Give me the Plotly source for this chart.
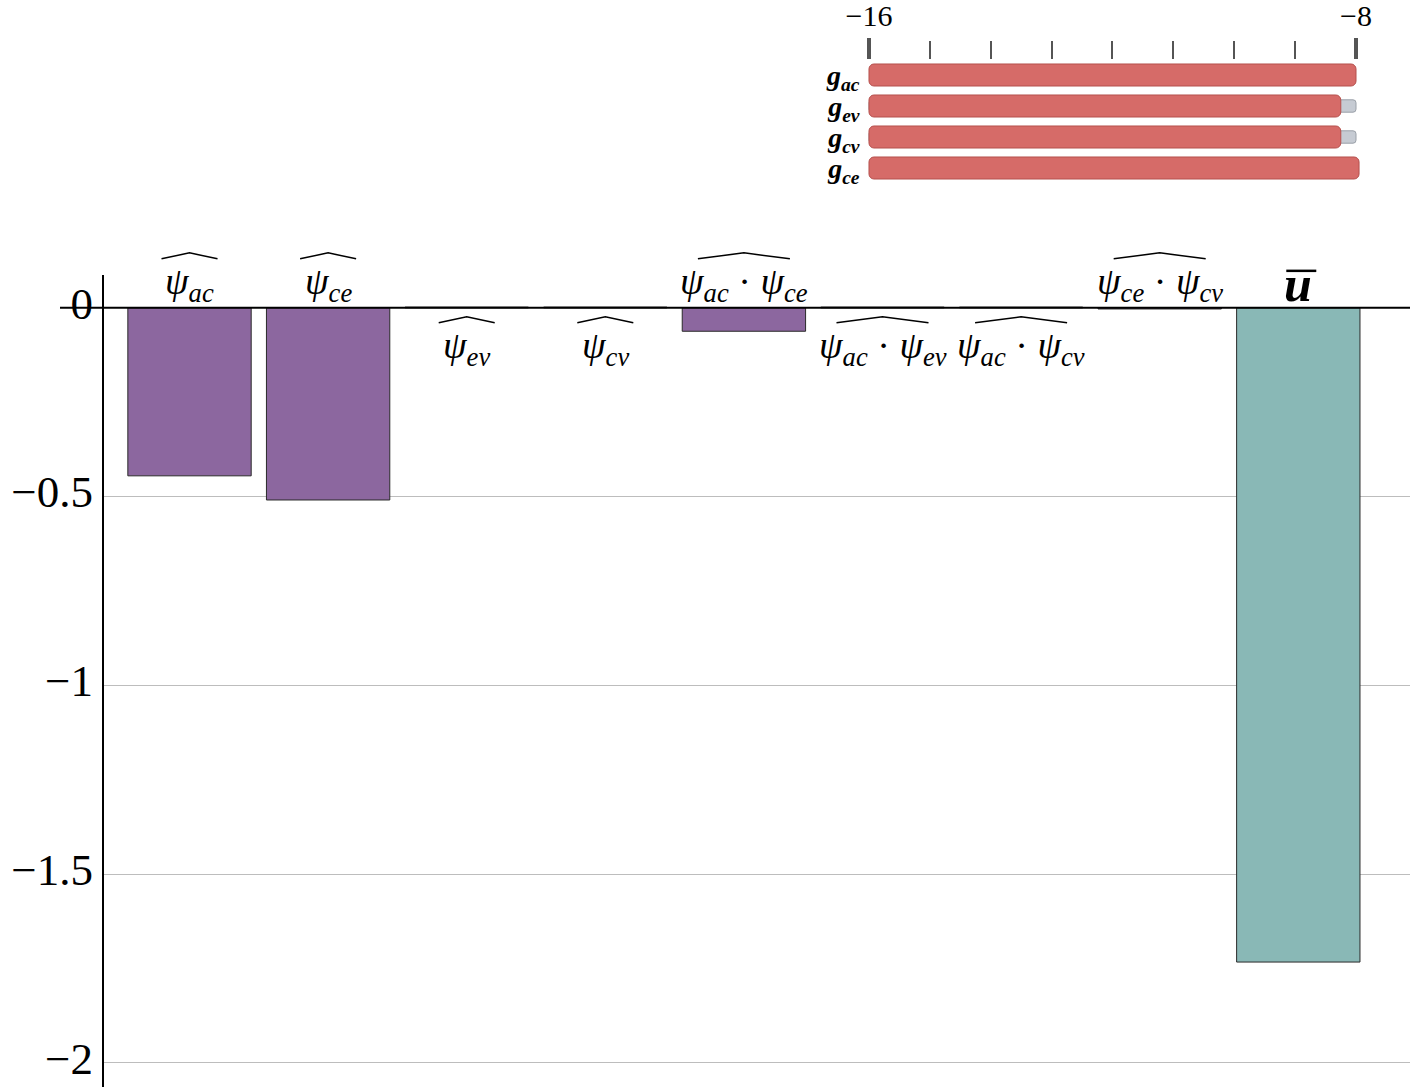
import plotly.graph_objects as go

# ---- main bar chart data -------------------------------------------------
terms = [
    "<i>ψ<sub>ac</sub></i>",
    "<i>ψ<sub>ce</sub></i>",
    "<i>ψ<sub>ev</sub></i>",
    "<i>ψ<sub>cv</sub></i>",
    "<i>ψ<sub>ac</sub></i> · <i>ψ<sub>ce</sub></i>",
    "<i>ψ<sub>ac</sub></i> · <i>ψ<sub>ev</sub></i>",
    "<i>ψ<sub>ac</sub></i> · <i>ψ<sub>cv</sub></i>",
    "<i>ψ<sub>ce</sub></i> · <i>ψ<sub>cv</sub></i>",
    "<b><i>u</i></b>",
]
contributions = [-0.445, -0.509, 0.002, 0.002, -0.062, 0.002, 0.002, -0.003, -1.733]
is_total = [False, False, False, False, False, False, False, False, True]

y_ticks = [0, -0.5, -1, -1.5, -2]
y_tick_text = ["0", "−0.5", "−1", "−1.5", "−2"]
y_range = [-2.064, 0.087]

# ---- inset: parameter ranges on a -16 .. -8 scale -------------------------
params = ["<b><i>g<sub>ac</sub></i></b>", "<b><i>g<sub>ev</sub></i></b>",
          "<b><i>g<sub>cv</sub></i></b>", "<b><i>g<sub>ce</sub></i></b>"]
range_lo = [-16, -16, -16, -16]
range_hi = [-8.0, -8.25, -8.25, -7.95]
bound_hi = [None, -8.0, -8.0, None]
inset_ticks = [-16, -15, -14, -13, -12, -11, -10, -9, -8]
inset_end_ticks = [-16, -8]
inset_end_text = ["−16", "−8"]
inset_range = [-16.04, -7.9]

PURPLE = "#8C679F"
TEAL = "#89B8B6"
RED = "#D66B68"
GRAY = "#C6CBD3"
SERIF = "Liberation Serif"

W, H = 1416, 1087
MAIN_TOP = 1 - 275 / H
# paper-fraction height of the zero baseline (labels sit outside the plot area)
zero_paper = MAIN_TOP * (0 - y_range[0]) / (y_range[1] - y_range[0])

# inset x-domain from pixel scale of the -16..-8 ticks
px_per_unit = (1356 - 869) / 8.0
ix0 = 869 + (inset_range[0] + 16) * px_per_unit
ix1 = 869 + (inset_range[1] + 16) * px_per_unit

fig = go.Figure()

idx = list(range(len(terms)))
fig.add_trace(go.Bar(
    x=idx, y=contributions, width=0.89,
    marker=dict(color=[TEAL if t else PURPLE for t in is_total],
                line=dict(color="#2a2a2a", width=1)),
    xaxis="x", yaxis="y", showlegend=False, hoverinfo="skip",
))

# inset: grey bound behind, red range on top
gray_x = [None if b is None else b - lo for b, lo in zip(bound_hi, range_lo)]
fig.add_trace(go.Bar(
    y=list(range(len(params))), x=gray_x, base=range_lo, orientation="h",
    width=0.4, marker=dict(color=GRAY, line=dict(color="#9aa0a8", width=1),
                           cornerradius=3),
    xaxis="x2", yaxis="y2", showlegend=False, hoverinfo="skip",
))
fig.add_trace(go.Bar(
    y=list(range(len(params))), x=[h - lo for h, lo in zip(range_hi, range_lo)],
    base=range_lo, orientation="h", width=0.71,
    marker=dict(color=RED, line=dict(color="#b5504d", width=1), cornerradius=5),
    xaxis="x2", yaxis="y2", showlegend=False, hoverinfo="skip",
))
# heavier end ticks with labels
fig.add_trace(go.Scatter(x=inset_end_ticks, y=[None, None], xaxis="x3", yaxis="y2",
                         showlegend=False, hoverinfo="skip"))

annotations = []
shapes = []

# zero baseline, running through the "0" tick label
shapes.append(dict(type="line", xref="paper", yref="y", x0=60 / W, x1=1410 / W,
                   y0=0, y1=0, line=dict(color="black", width=2), layer="above"))

for i, (lab, v, tot) in enumerate(zip(terms, contributions, is_total)):
    above = v < 0
    if tot:
        annotations.append(dict(x=i, y=0, xref="x", yref="y", text=lab, showarrow=False,
                                yshift=24, font=dict(family=SERIF, size=50, color="black")))
        shapes.append(dict(type="line", xref="x", yref="paper", xsizemode="pixel",
                           ysizemode="pixel", xanchor=i, yanchor=zero_paper,
                           x0=-12, x1=18, y0=37, y1=37,
                           line=dict(color="black", width=2.5)))
        continue
    product = "·" in lab
    half = 46 if product else 28
    if above:
        ys, hat0 = 24, 49
    else:
        ys, hat0 = -40, -15
    annotations.append(dict(x=i, y=0, xref="x", yref="y", text=lab, showarrow=False,
                            yshift=ys, font=dict(family=SERIF, size=38, color="black")))
    shapes.append(dict(type="path", xref="x", yref="paper", xsizemode="pixel",
                       ysizemode="pixel", xanchor=i, yanchor=zero_paper,
                       path=f"M {-half},{hat0} L 0,{hat0 + 6} L {half},{hat0}",
                       line=dict(color="black", width=1.5)))

fig.update_layout(
    width=W, height=H,
    margin=dict(l=0, r=0, t=0, b=0, autoexpand=False),
    paper_bgcolor="white", plot_bgcolor="white",
    barmode="overlay",
    xaxis=dict(domain=[104 / W, 1410 / W], range=[-0.617, 8.806],
               showticklabels=False, showgrid=False, zeroline=False, showline=False,
               automargin=False),
    yaxis=dict(domain=[0, MAIN_TOP], range=y_range,
               tickvals=y_ticks, ticktext=y_tick_text, ticks="", ticklen=0,
               ticklabelstandoff=0, ticklabelshift=-5, automargin=False,
               ticklabeloverflow="allow",
               tickfont=dict(family=SERIF, size=45, color="black"),
               showgrid=True, gridcolor="#bdbdbd", gridwidth=1,
               zeroline=False, showline=True, linecolor="black", linewidth=2),
    xaxis2=dict(domain=[ix0 / W, ix1 / W], range=inset_range, anchor="y2", side="top",
                tickvals=inset_ticks, ticks="outside", ticklen=18, tickwidth=2,
                tickcolor="#555", showticklabels=False, showgrid=False,
                zeroline=False, showline=False, automargin=False),
    xaxis3=dict(domain=[ix0 / W, ix1 / W], range=inset_range, anchor="y2", side="top",
                overlaying="x2", tickvals=inset_end_ticks, ticktext=inset_end_text,
                ticks="outside", ticklen=21, tickwidth=4, tickcolor="#555",
                tickfont=dict(family=SERIF, size=30, color="black"),
                showgrid=False, zeroline=False, showline=False, automargin=False),
    yaxis2=dict(domain=[1 - 183.5 / H, 1 - 59.5 / H], range=[3.5, -0.5], anchor="x2",
                tickvals=list(range(len(params))), ticktext=params, ticks="",
                ticklabelstandoff=6, automargin=False,
                tickfont=dict(family=SERIF, size=28, color="black"),
                showgrid=False, zeroline=False, showline=False),
    annotations=annotations,
    shapes=shapes,
)

fig.write_html("out.html")
